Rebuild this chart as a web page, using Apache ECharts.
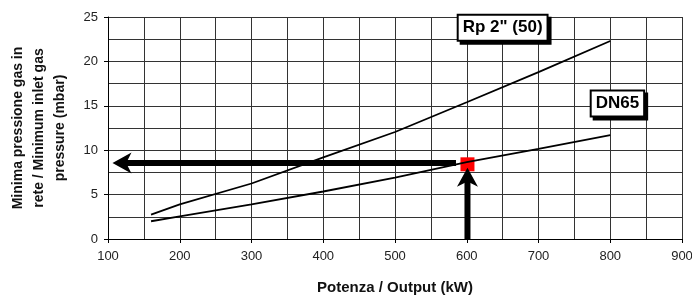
<!DOCTYPE html>
<html>
<head>
<meta charset="utf-8">
<script src="https://cdn.jsdelivr.net/npm/echarts@6/dist/echarts.min.js"></script>
<style>
  html, body { margin: 0; padding: 0; background: #fff; }
  #chart { width: 692px; height: 295px; }
</style>
</head>
<body>
<div id="chart"></div>
<script>
// readings
const outputKW = [160, 200, 300, 400, 500, 600, 700, 800]
const rp2Pressure = [2.75, 3.9, 6.25, 9.2, 12.05, 15.4, 18.8, 22.3]
const dn65Pressure = [2.0, 2.55, 3.9, 5.35, 6.9, 8.65, 10.15, 11.7]

const workPoint = [601, 8.41]
const arrowLeftShaft = [[585, 8.56], [118, 8.56]]
const arrowLeftHead = [119.5, 8.56]
const arrowUpShaft = [[601, 0], [601, 7]]
const arrowUpHead = [601, 6.95]

const labelRp = { name: 'Rp 2" (50)', pos: [650, 23.8] }
const labelDn = { name: 'DN65', pos: [810, 15.25] }

const font = "'Liberation Sans', Arial, sans-serif"
const chart = echarts.init(document.getElementById('chart'))

const pair = (xs, ys) => xs.map((x, i) => [x, ys[i]])

const boxLabel = {
  show: true,
  position: 'inside',
  formatter: '{b}',
  fontFamily: font,
  fontSize: 17,
  fontWeight: 'bold',
  color: '#000',
  backgroundColor: '#fff',
  borderColor: '#000',
  borderWidth: 2,
  padding: [4, 4, 3, 4],
  shadowColor: '#000',
  shadowOffsetX: 3,
  shadowOffsetY: 3,
  shadowBlur: 0
}

const option = {
  animation: false,
  backgroundColor: '#fff',
  grid: { left: 108, right: 10, top: 17, bottom: 56, outerBoundsMode: 'none', containLabel: false },
  xAxis: {
    type: 'value',
    min: 100,
    max: 900,
    interval: 100,
    name: 'Potenza / Output (kW)',
    nameLocation: 'middle',
    nameGap: 41,
    nameTextStyle: { fontFamily: font, fontSize: 15, fontWeight: 'bold', color: '#111' },
    axisLine: { show: true, lineStyle: { color: '#000', width: 1 } },
    axisTick: { show: true, length: 4, lineStyle: { color: '#000' } },
    axisLabel: { fontFamily: font, fontSize: 13, color: '#222', margin: 11 },
    splitLine: { show: true, lineStyle: { color: '#333', width: 1 } },
    minorTick: { show: false, splitNumber: 2 },
    minorSplitLine: { show: true, lineStyle: { color: '#333', width: 1 } }
  },
  yAxis: {
    type: 'value',
    min: 0,
    max: 25,
    interval: 5,
    name: 'Minima pressione gas in\nrete / Minimum inlet gas\npressure (mbar)',
    nameLocation: 'middle',
    nameRotate: 90,
    nameGap: 37,
    nameTextStyle: { fontFamily: font, fontSize: 14, fontWeight: 'bold', color: '#111', lineHeight: 21, align: 'center' },
    axisLine: { show: true, lineStyle: { color: '#000', width: 1 } },
    axisTick: { show: true, length: 4, lineStyle: { color: '#000' } },
    axisLabel: { fontFamily: font, fontSize: 13, color: '#222', margin: 10 },
    splitLine: { show: true, lineStyle: { color: '#333', width: 1 } },
    minorTick: { show: false, splitNumber: 2 },
    minorSplitLine: { show: true, lineStyle: { color: '#333', width: 1 } }
  },
  series: [
    {
      name: 'work point',
      type: 'scatter',
      z: 2,
      symbol: 'rect',
      symbolSize: 14,
      itemStyle: { color: '#ff0000', opacity: 1 },
      data: [workPoint]
    },
    {
      name: 'Rp 2" (50)',
      type: 'line',
      z: 3,
      showSymbol: false,
      lineStyle: { color: '#000', width: 1.8 },
      data: pair(outputKW, rp2Pressure)
    },
    {
      name: 'DN65',
      type: 'line',
      z: 3,
      showSymbol: false,
      lineStyle: { color: '#000', width: 1.8 },
      data: pair(outputKW, dn65Pressure)
    },
    {
      name: 'arrow left shaft',
      type: 'line',
      z: 4,
      showSymbol: false,
      lineStyle: { color: '#000', width: 6, cap: 'butt' },
      data: arrowLeftShaft
    },
    {
      name: 'arrow up shaft',
      type: 'line',
      z: 4,
      showSymbol: false,
      lineStyle: { color: '#000', width: 6, cap: 'butt' },
      data: arrowUpShaft
    },
    {
      name: 'arrow heads',
      type: 'scatter',
      z: 5,
      itemStyle: { color: '#000', opacity: 1 },
      data: [
        { value: arrowLeftHead, symbol: 'path://M0,10 L18,0 L13,10 L18,20 Z', symbolSize: [19, 21] },
        { value: arrowUpHead, symbol: 'path://M10,0 L20,18 L10,13 L0,18 Z', symbolSize: [21, 19] }
      ]
    },
    {
      name: 'labels',
      type: 'scatter',
      z: 6,
      symbolSize: 0,
      itemStyle: { color: '#fff', opacity: 1 },
      label: boxLabel,
      data: [
        { name: labelRp.name, value: labelRp.pos },
        { name: labelDn.name, value: labelDn.pos }
      ]
    }
  ]
}

chart.setOption(option)
</script>
</body>
</html>
